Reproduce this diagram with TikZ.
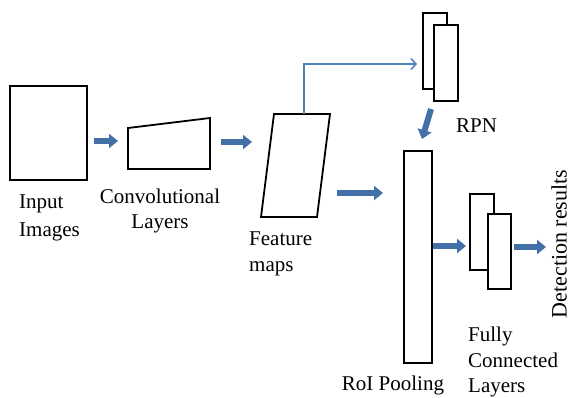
\documentclass[tikz,border=0pt]{standalone}
\usepackage{fontspec}
\setmainfont{Liberation Serif}
\usetikzlibrary{arrows.meta}
\definecolor{blockblue}{HTML}{4470A8}
\definecolor{lineblue}{HTML}{4F81BD}
\tikzset{
  box/.style={draw=black, line width=1.8pt, fill=white, inner sep=0pt},
  shapeline/.style={draw=black, line width=1.8pt, line join=miter},
  blockarrow/.style={draw=blockblue, line width=6pt, -{Triangle[length=9pt,width=14pt]}},
  thinarrow/.style={draw=lineblue, line width=1.5pt, -{Straight Barb[length=5pt,width=11pt]}},
  lbl/.style={font=\fontsize{21}{25.5}\selectfont, inner sep=0pt}
}
\begin{document}
\begin{tikzpicture}[x=1pt,y=-1pt]
\useasboundingbox (0,0) rectangle (572,397);
% input image
\node[box, minimum width=77pt, minimum height=94pt] (input) at (48.5,133) {};
\node[lbl, align=left, anchor=north west, font=\fontsize{21}{28}\selectfont] (inputlbl) at (19,195) {Input\\Images};
% conv layers
\draw[shapeline] (128,128) -- (210,118) -- (210,169) -- (128,169) -- cycle;
\coordinate (conv) at (169,145);
\node[lbl, align=center] (convlbl) at (160,211) {Convolutional\\Layers};
% feature maps
\draw[shapeline] (274,114) -- (330,114) -- (317,217) -- (261,217) -- cycle;
\coordinate (fmtop) at (304,114);
\node[lbl, align=left, anchor=north west] (fmlbl) at (249,232) {Feature\\maps};
% RPN
\node[box, minimum width=24pt, minimum height=76pt] (rpnback) at (435,51) {};
\node[box, minimum width=24pt, minimum height=76pt] (rpnfront) at (446,63) {};
\node[lbl, anchor=west] (rpnlbl) at (456,126) {RPN};
% RoI pooling
\node[box, minimum width=28pt, minimum height=212pt] (roi) at (418,257) {};
\node[lbl] (roilbl) at (393,385) {RoI Pooling};
% FC layers
\node[box, minimum width=24pt, minimum height=76pt] (fcback) at (482,232) {};
\node[box, minimum width=23pt, minimum height=75pt] (fcfront) at (499.5,251.5) {};
\node[lbl, align=left, anchor=north west] (fclbl) at (468,327) {Fully\\Connected\\Layers};
% detection
\node[lbl, rotate=90, font=\fontsize{22}{26}\selectfont] (detlbl) at (559,244) {Detection results};
% arrows
\coordinate (a1s) at (94,141); \coordinate (a1e) at (118,141);
\draw[blockarrow] (a1s) -- (a1e);
\coordinate (a2s) at (221,142); \coordinate (a2e) at (252,142);
\draw[blockarrow] (a2s) -- (a2e);
\coordinate (a3s) at (337,193); \coordinate (a3e) at (383,193);
\draw[blockarrow] (a3s) -- (a3e);
\coordinate (a4s) at (433,246); \coordinate (a4e) at (466,246);
\draw[blockarrow] (a4s) -- (a4e);
\coordinate (a5s) at (514,247); \coordinate (a5e) at (546,247);
\draw[blockarrow] (a5s) -- (a5e);
\coordinate (a6s) at (431,109); \coordinate (a6e) at (422,139);
\draw[blockarrow] (a6s) -- (a6e);
% thin arrow to RPN
\coordinate (rpnin) at (417,64);
\draw[thinarrow] (fmtop) |- (rpnin);
\end{tikzpicture}
\end{document}
